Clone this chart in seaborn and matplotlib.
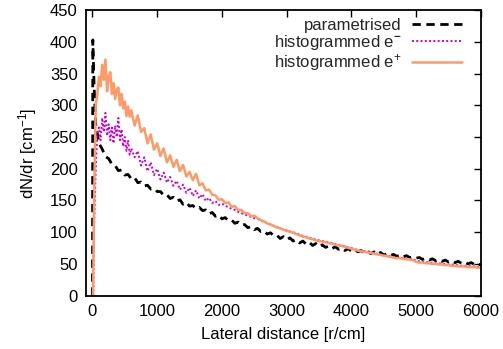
import matplotlib
matplotlib.use("Agg")
import matplotlib.pyplot as plt
import seaborn as sns
import pandas as pd

# Radial bins (cm) of the histogrammed e-/e+ distributions
r_hist = [10] + list(range(25, 600, 25)) + list(range(600, 6001, 50))
# Radial sampling (cm) of the parametrised distribution
r_par = [0, 5, 25] + list(range(50, 6001, 50))

e_plus = [
    0, 150, 300, 318, 345, 330, 364, 340, 372, 322, 345, 352, 318, 335, 310, 325,
    328, 300, 318, 295, 306, 283, 298, 282,
    292, 268, 284, 258, 264, 240, 254, 230, 240,
    220, 232, 210, 221, 203, 214, 196, 206, 188, 195,
    182, 192, 174, 177, 166, 167, 159, 158, 151, 152,
    146, 147, 140, 141, 135, 135, 130, 130, 125, 126,
    122, 119, 117, 114, 112, 110, 107, 106, 104, 102,
    101, 99, 97, 95, 93, 92, 90, 89, 87, 86,
    85, 84, 83, 82, 80, 79, 78, 77, 75, 74,
    72, 71, 70, 69, 68, 67, 66, 65, 64, 63,
    62, 61, 60, 59, 59, 58, 57, 57, 56, 53,
    52, 52, 51, 51, 50, 50, 49, 49, 48, 48,
    47, 47, 46, 46, 46, 45, 45, 45, 44, 44,
]

e_minus = [
    0, 110, 200, 255, 265, 245, 280, 258, 288, 252, 270, 245, 265, 240, 268, 250,
    280, 245, 262, 235, 250, 228, 245, 222,
    232, 218, 228, 205, 218, 196, 210, 190, 200,
    183, 194, 178, 187, 173, 181, 167, 175, 162, 170,
    157, 166, 153, 160, 149, 154, 146, 149, 143, 145,
    142, 139, 137, 135, 132, 130, 128, 126, 124, 122,
    121, 118, 116, 114, 112, 110, 108, 106, 104, 103,
    101, 100, 98, 96, 94, 93, 91, 90, 88, 87,
    86, 85, 84, 83, 81, 80, 79, 78, 76, 75,
    73, 72, 71, 70, 69, 68, 67, 66, 65, 64,
    63, 62, 61, 60, 60, 59, 58, 58, 57, 55,
    54, 53, 53, 52, 52, 51, 51, 50, 50, 49,
    49, 48, 48, 47, 47, 47, 46, 46, 45, 45,
]

param = [
    0, 403, 330,
    270, 240, 231, 219, 216, 207, 205, 197, 198, 190,
    191, 184, 186, 178, 179, 173, 174, 168, 169, 164,
    164, 158, 159, 153, 155, 149, 151, 144, 147, 141,
    142, 137, 139, 134, 135, 129, 131, 125, 127, 121,
    123, 118, 119, 114, 116, 111, 112, 107, 109, 104,
    106, 101, 102, 97, 99, 94, 95, 90, 93, 88,
    91, 86, 88, 83, 86, 81, 84, 79, 82, 77,
    80, 76, 78, 74, 77, 73, 75, 71, 74, 70,
    72, 69, 71, 67, 70, 66, 69, 65, 68, 64,
    66, 63, 65, 62, 64, 61, 63, 60, 61, 59,
    60, 57, 59, 56, 58, 55, 57, 54, 56, 53,
    55, 52, 54, 51, 53, 50, 52, 49, 51, 48,
]

labels = ["parametrised", "histogrammed e$^{\\mathbf{-}}$", "histogrammed e$^{+}$"]
x_ticks = [0, 1000, 2000, 3000, 4000, 5000, 6000]
y_ticks = [0, 50, 100, 150, 200, 250, 300, 350, 400, 450]

sns.set_theme(style="white")
plt.rcParams["font.family"] = ["Liberation Sans", "DejaVu Sans"]
plt.rcParams["mathtext.fontset"] = "custom"
plt.rcParams["mathtext.rm"] = "Liberation Sans"
plt.rcParams["mathtext.bf"] = "Liberation Sans:bold"
plt.rcParams["mathtext.it"] = "Liberation Sans:italic"

df_par = pd.DataFrame({"r": r_par, "n": param})
df_hist = pd.DataFrame({"r": r_hist, "em": e_minus, "ep": e_plus})

fig, ax = plt.subplots(figsize=(5.03, 3.49), dpi=100)
fig.subplots_adjust(left=0.171, right=0.956, bottom=0.153, top=0.971)

sns.lineplot(data=df_par, x="r", y="n", ax=ax, color="black", lw=2.0,
             linestyle=(0, (3, 2)), label=labels[0], estimator=None, sort=False)
sns.lineplot(data=df_hist, x="r", y="em", ax=ax, color="#cc00cc", lw=1.4,
             linestyle=(0, (1, 1.2)), label=labels[1], estimator=None, sort=False)
sns.lineplot(data=df_hist, x="r", y="ep", ax=ax, color="#ff9966", lw=1.8,
             label=labels[2], estimator=None, sort=False)

ax.set_xlim(-100, 6000)
ax.set_ylim(0, 450)
ax.set_xticks(x_ticks)
ax.set_yticks(y_ticks)
ax.tick_params(direction="in", length=5, width=1, labelsize=12,
               top=True, right=True, color="black", labelcolor="black", pad=6)
for s in ax.spines.values():
    s.set_visible(True)
    s.set_color("black")
    s.set_linewidth(1.3)

ax.set_xlabel("Lateral distance [r/cm]", fontsize=12, color="black", labelpad=6)
ax.set_ylabel("dN/dr [cm$^{-1}$]", fontsize=12, color="black", labelpad=8)

ax.legend(loc="upper right", bbox_to_anchor=(0.985, 1.018), frameon=False,
          markerfirst=False, fontsize=12, handlelength=3.0, handletextpad=0.6,
          labelspacing=0.0, borderpad=0.3)

fig.savefig("out.png", dpi=100)
